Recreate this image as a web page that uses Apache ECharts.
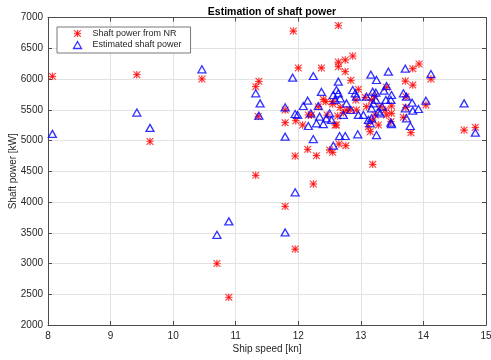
<!DOCTYPE html>
<html>
<head>
<meta charset="utf-8">
<script src="https://cdn.jsdelivr.net/npm/echarts@6/dist/echarts.min.js"></script>
<style>
  html, body { margin: 0; padding: 0; background: #fff; }
  #chart { width: 491px; height: 360px; }
</style>
</head>
<body>
<div id="chart"></div>
<script>
// speed [kn], power [kW]
var nrSpeed = [11.92, 12.64, 12.00, 12.37, 12.64, 12.64, 12.75, 12.87, 12.75, 12.84,
    13.83, 13.93, 13.71, 13.83, 14.12, 11.32, 11.37, 11.36, 11.79, 11.79,
    11.96, 12.07, 12.15, 12.29, 11.95, 12.50, 12.55, 12.65, 12.76, 11.32,
    13.19, 12.40, 12.44, 12.55, 12.55, 12.32, 12.16, 12.21, 12.46, 12.59,
    12.61, 12.63, 12.72, 12.83, 12.92, 12.96, 12.93, 13.07, 13.09, 13.17,
    13.22, 13.31, 13.39, 13.41, 13.49, 13.49, 13.48, 13.68, 13.72, 13.72,
    14.04, 14.65, 14.83, 13.12, 13.15, 13.19, 13.28, 13.23, 13.80, 13.41,
    12.67, 12.77, 8.07, 9.42, 9.63, 10.46, 10.70, 10.89, 12.24, 11.79, 11.95];
var nrPower = [6780, 6870, 6180, 6180, 6276, 6200, 6310, 6374, 6120, 5978,
    6168, 6244, 5967, 5902, 6000, 5875, 5962, 5390, 5496, 5290,
    5322, 5252, 4856, 4753, 4748, 4846, 4808, 4943, 4916, 4433,
    4612, 5669, 5631, 5631, 5594, 5550, 5415, 5415, 5415, 5252,
    5252, 5398, 5452, 5496, 5659, 5832, 5496, 5702, 5550, 5659,
    5713, 5550, 5496, 5864, 5561, 5442, 5306, 5377, 5539, 5713,
    5577, 5170, 5214, 5225, 5143, 5333, 5252, 5415, 5127, 5415,
    5539, 5496, 6043, 6070, 4984, 6000, 3000, 2451, 4293, 3929, 3234];

var estSpeed = [11.32, 11.39, 11.37, 11.91, 12.24, 11.79, 11.95, 11.99, 12.08, 12.15,
    12.32, 12.20, 12.16, 11.79, 12.24, 12.37, 12.34, 12.29, 12.40, 12.45,
    12.50, 12.53, 12.56, 12.61, 12.64, 12.64, 12.59, 12.67, 12.72, 12.77,
    12.87, 12.91, 12.93, 12.96, 12.84, 12.66, 12.75, 12.95, 12.56, 13.16,
    13.25, 13.44, 13.71, 14.12, 13.09, 13.19, 13.24, 13.24, 13.20, 13.17,
    13.28, 13.37, 13.41, 13.49, 13.40, 13.48, 13.68, 13.73, 13.82, 13.71,
    13.83, 13.92, 14.04, 14.65, 14.83, 13.04, 13.12, 13.15, 13.17, 13.25,
    13.48, 13.49, 13.73, 13.79, 13.34, 13.31, 8.07, 9.42, 9.63, 10.46,
    10.70, 10.89, 11.95, 11.79];
var estPower = [5767, 5604, 5404, 6022, 6049, 5539, 5431, 5415, 5561, 5648,
    5561, 5442, 5236, 5062, 5024, 5789, 5388, 5279, 5268, 5360,
    5442, 5334, 5740, 5821, 5957, 5767, 5659, 5686, 5415, 5604,
    5821, 5767, 5713, 5415, 5496, 5073, 5073, 5100, 4916, 6070,
    5984, 6119, 6168, 6081, 5713, 5794, 5778, 5659, 5604, 5523,
    5469, 5810, 5886, 5740, 5659, 5659, 5767, 5713, 5615, 5523,
    5485, 5512, 5648, 5604, 5127, 5415, 5334, 5279, 5360, 5089,
    5290, 5268, 5360, 5236, 5550, 5442, 5108, 5454, 5205, 6157,
    3467, 3685, 4158, 3505];

var xTicks = [8, 9, 10, 11, 12, 13, 14, 15];
var yTicks = [2000, 2500, 3000, 3500, 4000, 4500, 5000, 5500, 6000, 6500, 7000];

function pairs(xs, ys) {
    var out = [];
    for (var i = 0; i < xs.length; i++) out.push([xs[i], ys[i]]);
    return out;
}

// asterisk marker, like MATLAB '*'
var starPath = 'path://M4.5 0h1v10h-1z M0 4.5h10v1h-10z ' +
    'M0 0.7L0.7 0L10 9.3L9.3 10z M10 0.7L9.3 0L0 9.3L0.7 10z';

var fontFam = '"Liberation Sans", Arial, sans-serif';
var axisCol = '#4a4a4a';
var textCol = '#262626';

var chart = echarts.init(document.getElementById('chart'));
chart.setOption({
    animation: false,
    backgroundColor: '#fff',
    title: {
        text: 'Estimation of shaft power',
        left: 267,
        top: 2,
        textAlign: 'center',
        textStyle: { fontFamily: fontFam, fontSize: 10.5, fontWeight: 'bold', color: '#000' }
    },
    legend: {
        orient: 'vertical',
        left: 57,
        top: 27,
        padding: [2, 9, 2, 14],
        itemGap: 1,
        itemWidth: 8,
        itemHeight: 7,
        backgroundColor: '#fff',
        borderColor: '#555',
        borderWidth: 0.8,
        borderRadius: 0,
        textStyle: { fontFamily: fontFam, fontSize: 9, color: textCol, padding: [0, 0, 0, 6] },
        data: [
            { name: 'Shaft power from NR', icon: starPath,
              itemStyle: { color: '#ff0000', borderColor: '#ff0000', borderWidth: 0.4 } },
            { name: 'Estimated shaft power', icon: 'triangle',
              itemStyle: { color: 'none', borderColor: '#0000ff', borderWidth: 1.3 } }
        ]
    },
    grid: { left: 48, right: 5, top: 17.5, bottom: 35, containLabel: false, outerBoundsMode: 'none' },
    xAxis: [{
        type: 'value', min: xTicks[0], max: xTicks[xTicks.length - 1], interval: 1,
        name: 'Ship speed [kn]', nameLocation: 'middle', nameGap: 19, nameMoveOverlap: false,
        nameTextStyle: { fontFamily: fontFam, fontSize: 10, color: textCol },
        axisLine: { show: true, onZero: false, lineStyle: { color: axisCol, width: 1 } },
        axisTick: { show: true, inside: true, length: 4, lineStyle: { color: axisCol } },
        axisLabel: { fontFamily: fontFam, fontSize: 10, color: textCol, margin: 6 },
        splitLine: { show: true, lineStyle: { color: '#e3e3e3', width: 1 } }
    }, {
        type: 'value', position: 'top', min: xTicks[0], max: xTicks[xTicks.length - 1], interval: 1,
        axisLine: { show: true, onZero: false, lineStyle: { color: axisCol, width: 1 } },
        axisTick: { show: true, inside: true, length: 4, lineStyle: { color: axisCol } },
        axisLabel: { show: false }, splitLine: { show: false }
    }],
    yAxis: [{
        type: 'value', min: yTicks[0], max: yTicks[yTicks.length - 1], interval: 500,
        name: 'Shaft power [kW]', nameLocation: 'middle', nameGap: 30, nameMoveOverlap: false,
        nameTextStyle: { fontFamily: fontFam, fontSize: 10, color: textCol },
        axisLine: { show: true, onZero: false, lineStyle: { color: axisCol, width: 1 } },
        axisTick: { show: true, inside: true, length: 4, lineStyle: { color: axisCol } },
        axisLabel: { fontFamily: fontFam, fontSize: 10, color: textCol, margin: 5,
            formatter: function (v) { return String(v); } },
        splitLine: { show: true, lineStyle: { color: '#e3e3e3', width: 1 } }
    }, {
        type: 'value', position: 'right', min: yTicks[0], max: yTicks[yTicks.length - 1], interval: 500,
        axisLine: { show: true, onZero: false, lineStyle: { color: axisCol, width: 1 } },
        axisTick: { show: true, inside: true, length: 4, lineStyle: { color: axisCol } },
        axisLabel: { show: false }, splitLine: { show: false }
    }],
    series: [{
        name: 'Shaft power from NR',
        type: 'scatter',
        symbol: starPath,
        symbolSize: 7,
        itemStyle: { color: '#ff0000', borderColor: '#ff0000', borderWidth: 0.4 },
        data: pairs(nrSpeed, nrPower)
    }, {
        name: 'Estimated shaft power',
        type: 'scatter',
        symbol: 'triangle',
        symbolSize: [8, 7],
        itemStyle: { color: 'none', borderColor: '#0000ff', borderWidth: 1.3 },
        data: pairs(estSpeed, estPower)
    }]
});
</script>
</body>
</html>
